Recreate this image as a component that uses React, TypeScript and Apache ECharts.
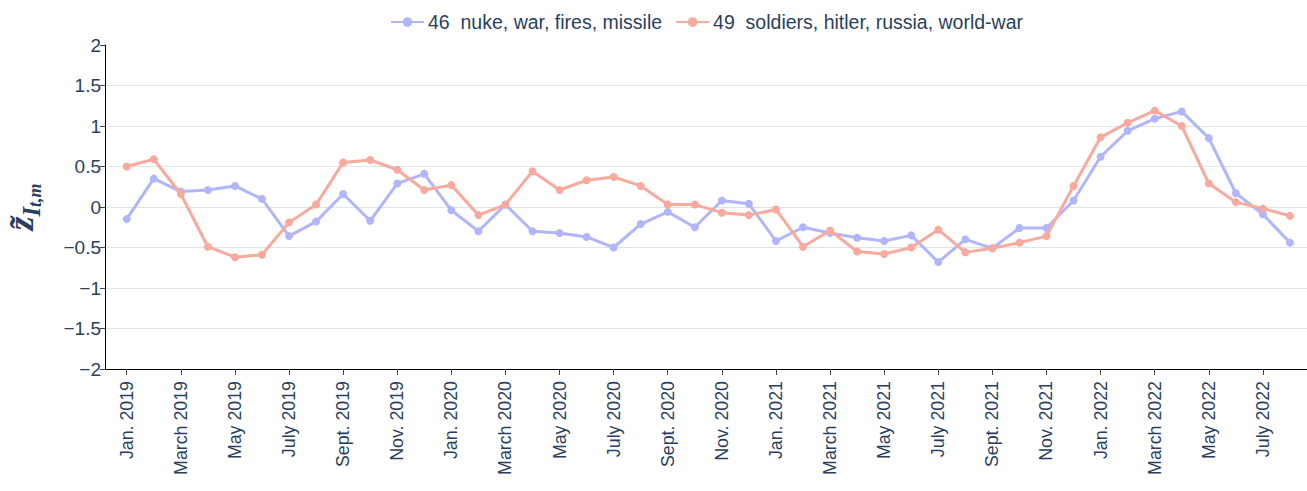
import React, { useEffect, useRef } from "react";
import * as echarts from "echarts";

const months: string[] = [
  "2019-01", "2019-02", "2019-03", "2019-04", "2019-05", "2019-06", "2019-07", "2019-08", "2019-09", "2019-10", "2019-11", "2019-12",
  "2020-01", "2020-02", "2020-03", "2020-04", "2020-05", "2020-06", "2020-07", "2020-08", "2020-09", "2020-10", "2020-11", "2020-12",
  "2021-01", "2021-02", "2021-03", "2021-04", "2021-05", "2021-06", "2021-07", "2021-08", "2021-09", "2021-10", "2021-11", "2021-12",
  "2022-01", "2022-02", "2022-03", "2022-04", "2022-05", "2022-06", "2022-07", "2022-08",
];

const tickLabels: string[] = [
  "Jan. 2019", "March 2019", "May 2019", "July 2019", "Sept. 2019", "Nov. 2019",
  "Jan. 2020", "March 2020", "May 2020", "July 2020", "Sept. 2020", "Nov. 2020",
  "Jan. 2021", "March 2021", "May 2021", "July 2021", "Sept. 2021", "Nov. 2021",
  "Jan. 2022", "March 2022", "May 2022", "July 2022",
];

const seriesNames: string[] = [
  "46  nuke, war, fires, missile",
  "49  soldiers, hitler, russia, world-war",
];

const nukeValues: number[] = [
  -0.15, 0.35, 0.19, 0.21, 0.26, 0.10, -0.36, -0.18, 0.16, -0.17, 0.29, 0.41,
  -0.04, -0.30, 0.03, -0.30, -0.32, -0.37, -0.50, -0.21, -0.06, -0.25, 0.08, 0.04,
  -0.42, -0.25, -0.32, -0.38, -0.42, -0.35, -0.68, -0.40, -0.51, -0.26, -0.26, 0.08,
  0.62, 0.94, 1.09, 1.18, 0.85, 0.17, -0.09, -0.44,
];

const soldiersValues: number[] = [
  0.50, 0.59, 0.16, -0.49, -0.62, -0.59, -0.19, 0.03, 0.55, 0.58, 0.46, 0.21,
  0.27, -0.10, 0.03, 0.44, 0.21, 0.33, 0.37, 0.26, 0.03, 0.03, -0.07, -0.10,
  -0.03, -0.49, -0.29, -0.55, -0.58, -0.50, -0.28, -0.56, -0.51, -0.44, -0.36, 0.26,
  0.86, 1.04, 1.19, 1.00, 0.29, 0.06, -0.02, -0.11,
];

const yTicks: number[] = [-2, -1.5, -1, -0.5, 0, 0.5, 1, 1.5, 2];

const FONT = "'Liberation Sans', Arial, sans-serif";
const SERIF = "'Liberation Serif', 'DejaVu Serif', serif";
const TEXT = "#2a3f5f";

export default function App() {
  const ref = useRef<HTMLDivElement>(null);

  useEffect(() => {
    document.body.style.margin = "0";
    if (!ref.current) return;
    const chart = echarts.init(ref.current, undefined, { renderer: "svg" });
    const tickIdx = tickLabels.map((_, k) => k * 2);
    const toPairs = (vals: number[]) => months.map((_, i) => [i, vals[i]]);

    chart.setOption({
      animation: false,
      backgroundColor: "#ffffff",
      grid: { left: 105, top: 45, right: 0, bottom: 122, containLabel: false, outerBoundsMode: "none" },
      legend: {
        left: 385,
        top: 7,
        itemWidth: 33,
        itemHeight: 12,
        itemGap: 13,
        textStyle: { color: TEXT, fontSize: 19.5, fontFamily: FONT, padding: [0, 0, 0, -1] },
        data: seriesNames,
      },
      xAxis: {
        type: "value",
        min: -0.802,
        max: 43.63,
        axisLine: { show: true, onZero: false, lineStyle: { color: "#000", width: 1 } },
        axisTick: { show: true, length: 6, customValues: tickIdx, lineStyle: { color: "#444" } },
        axisLabel: {
          customValues: tickIdx,
          rotate: 90,
          margin: 12,
          fontSize: 17.8,
          fontFamily: FONT,
          color: TEXT,
          formatter: (v: number) => tickLabels[Math.round(v / 2)] ?? "",
        },
        splitLine: { show: false },
      },
      yAxis: {
        type: "value",
        min: -2,
        max: 2,
        interval: 0.5,
        name: "{z|z\u0303}{i|I}{s|t,m}",
        nameLocation: "middle",
        nameRotate: 90,
        nameGap: 61,
        nameTextStyle: {
          rich: {
            z: { fontSize: 36, fontWeight: "bold", fontStyle: "italic", fontFamily: SERIF, color: TEXT, lineHeight: 46, verticalAlign: "middle" },
            i: { fontSize: 25, fontWeight: "bold", fontStyle: "italic", fontFamily: SERIF, color: TEXT, lineHeight: 36, verticalAlign: "bottom" },
            s: { fontSize: 18, fontWeight: "bold", fontStyle: "italic", fontFamily: SERIF, color: TEXT, lineHeight: 22, verticalAlign: "bottom" },
          },
        },
        axisLine: { show: true, onZero: false, lineStyle: { color: "#000", width: 1 } },
        axisTick: { show: true, length: 5, lineStyle: { color: "#444" } },
        axisLabel: {
          margin: 4,
          fontSize: 19,
          fontFamily: FONT,
          color: TEXT,
          customValues: yTicks,
          formatter: (v: number) => (v < 0 ? "\u2212" + String(Math.abs(v)) : String(v)),
        },
        splitLine: { show: true, showMinLine: false, showMaxLine: false, lineStyle: { color: "#dfe5e5", width: 1 } },
      },
      series: [
        {
          name: seriesNames[0],
          type: "line",
          data: toPairs(nukeValues),
          symbol: "circle",
          symbolSize: 8,
          color: "#b1b6fc",
          lineStyle: { width: 3, color: "#b1b6fc" },
          itemStyle: { color: "#b1b6fc" },
          z: 2,
        },
        {
          name: seriesNames[1],
          type: "line",
          data: toPairs(soldiersValues),
          symbol: "circle",
          symbolSize: 8,
          color: "#f7aa9d",
          lineStyle: { width: 3, color: "#f7aa9d" },
          itemStyle: { color: "#f7aa9d" },
          z: 3,
        },
      ],
    });
    return () => chart.dispose();
  }, []);

  return <div ref={ref} style={{ width: 1307, height: 491 }} />;
}
